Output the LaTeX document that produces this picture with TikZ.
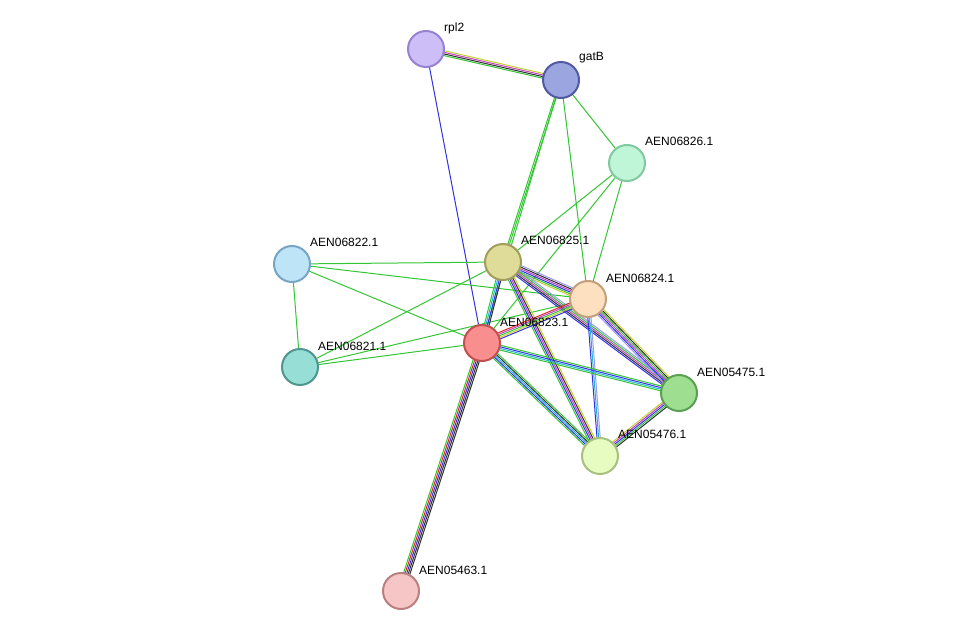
\documentclass[tikz,border=0pt]{standalone}
\usepackage{fontspec}
\setmainfont{Liberation Sans}
\usetikzlibrary{calc}
\definecolor{eg}{HTML}{33C633}
\definecolor{eb}{HTML}{3333E6}
\definecolor{ec}{HTML}{22B4D4}
\definecolor{em}{HTML}{C040C0}
\definecolor{er}{HTML}{E02828}
\definecolor{ek}{HTML}{303030}
\definecolor{ey}{HTML}{C4D030}
\definecolor{ep}{HTML}{9A9AF0}
\newcommand\medge[4]{%
  \foreach \cc [count=\ii] in {#4} {%
    \pgfmathsetmacro\oo{(\ii-(#3+1)/2)*1.6}%
    \draw[\cc,line width=1pt] ($(#1)!\oo pt!90:(#2)$) -- ($(#2)!\oo pt!-90:(#1)$);
  }}
\tikzset{prot/.style={circle,minimum size=36pt,inner sep=0pt,line width=2pt},
  lab/.style={anchor=west,font=\fontsize{12}{14}\selectfont,inner sep=0pt}}
\begin{document}
\begin{tikzpicture}[x=1pt,y=-1pt]
\useasboundingbox (0,0) rectangle (975,637);
\coordinate (rpl2) at (426,49);
\coordinate (gatB) at (561,80);
\coordinate (n26) at (627,163);
\coordinate (n22) at (292,264);
\coordinate (n25) at (503,262);
\coordinate (n24) at (588,299);
\coordinate (n23) at (482,343);
\coordinate (n21) at (300,367);
\coordinate (n75) at (679,393);
\coordinate (n76) at (600,456);
\coordinate (n63) at (401,591);
% edges
\medge{rpl2}{gatB}{4}{eg,ek,em,ey}
\medge{rpl2}{n23}{1}{eb}
\medge{gatB}{n26}{1}{eg}
\medge{gatB}{n25}{2}{eg,eg}
\medge{gatB}{n24}{1}{eg}
\medge{gatB}{n23}{1}{eg}
\medge{n26}{n25}{1}{eg}
\medge{n26}{n23}{1}{eg}
\medge{n26}{n24}{1}{eg}
\medge{n22}{n25}{1}{eg}
\medge{n22}{n24}{1}{eg}
\medge{n22}{n23}{1}{eg}
\medge{n22}{n21}{1}{eg}
\medge{n21}{n25}{1}{eg}
\medge{n21}{n23}{1}{eg}
\medge{n21}{n24}{1}{eg}
\medge{n25}{n24}{6}{ey,eg,eb,em,ek,ep}
\medge{n25}{n23}{4}{eg,ec,eb,ek}
\medge{n25}{n75}{5}{eb,ek,em,eg,ep}
\medge{n25}{n76}{5}{eg,eb,em,ek,ey}
\medge{n24}{n23}{5}{er,em,eg,ey,eb}
\medge{n24}{n75}{6}{ep,eb,em,eg,ek,ey}
\medge{n24}{n76}{3}{eb,ec,ep}
\medge{n23}{n75}{4}{eg,ec,eb,eg}
\medge{n23}{n76}{5}{eg,eb,ec,ek,eg}
\medge{n23}{n63}{5}{eg,er,eb,ek,ek}
\medge{n75}{n76}{5}{ey,em,eb,eg,ek}
% nodes
\node[prot,fill={rgb,255:red,206;green,190;blue,248},draw={rgb,255:red,150;green,130;blue,210}] (a) at (rpl2) {};
\node[prot,fill={rgb,255:red,155;green,166;blue,224},draw={rgb,255:red,80;green,90;blue,160}] (b) at (gatB) {};
\node[prot,fill={rgb,255:red,192;green,246;blue,216},draw={rgb,255:red,130;green,200;blue,160}] (c) at (n26) {};
\node[prot,fill={rgb,255:red,190;green,228;blue,248},draw={rgb,255:red,120;green,165;blue,195}] (d) at (n22) {};
\node[prot,fill={rgb,255:red,222;green,220;blue,152},draw={rgb,255:red,160;green,158;blue,90}] (e) at (n25) {};
\node[prot,fill={rgb,255:red,253;green,224;blue,192},draw={rgb,255:red,195;green,160;blue,125}] (f) at (n24) {};
\node[prot,fill={rgb,255:red,248;green,142;blue,142},draw={rgb,255:red,195;green,80;blue,80}] (g) at (n23) {};
\node[prot,fill={rgb,255:red,150;green,222;blue,214},draw={rgb,255:red,80;green,150;blue,142}] (h) at (n21) {};
\node[prot,fill={rgb,255:red,158;green,222;blue,144},draw={rgb,255:red,90;green,160;blue,80}] (i) at (n75) {};
\node[prot,fill={rgb,255:red,230;green,252;blue,192},draw={rgb,255:red,168;green,192;blue,128}] (j) at (n76) {};
\node[prot,fill={rgb,255:red,246;green,198;blue,198},draw={rgb,255:red,185;green,128;blue,128}] (k) at (n63) {};
% labels
\node[lab] (la) at (444,28) {rpl2};
\node[lab] (lb) at (579,58) {gatB};
\node[lab] (lc) at (645,141) {AEN06826.1};
\node[lab] (ld) at (310,242) {AEN06822.1};
\node[lab] (le) at (521,240) {AEN06825.1};
\node[lab] (lf) at (606,278) {AEN06824.1};
\node[lab] (lg) at (500,322) {AEN06823.1};
\node[lab] (lh) at (318,346) {AEN06821.1};
\node[lab] (li) at (697,372) {AEN05475.1};
\node[lab] (lj) at (618,434) {AEN05476.1};
\node[lab] (lk) at (419,570) {AEN05463.1};
\end{tikzpicture}
\end{document}
